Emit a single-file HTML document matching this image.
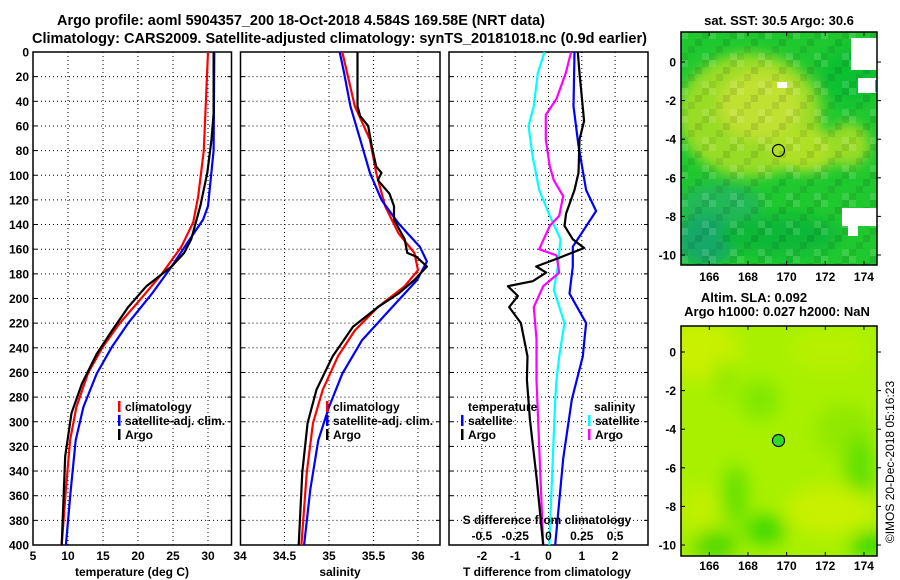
<!DOCTYPE html>
<html><head><meta charset="utf-8">
<style>
html,body{margin:0;padding:0;background:#fff;}
svg{display:block;font-family:"Liberation Sans",sans-serif;font-weight:bold;}
text{fill:#000;}
</style></head>
<body>
<svg id="chart" width="900" height="580" viewBox="0 0 900 580">
<text x="57" y="25" font-size="14.5" textLength="488" lengthAdjust="spacingAndGlyphs">Argo profile: aoml 5904357_200 18-Oct-2018 4.584S 169.58E (NRT data)</text>
<text x="32" y="43" font-size="14.5" textLength="615" lengthAdjust="spacingAndGlyphs">Climatology: CARS2009. Satellite-adjusted climatology: synTS_20181018.nc (0.9d earlier)</text>
<g id="p1"></g>
<g id="p2"></g>
<g id="p3"></g>

<defs>
<filter id="bl" x="-20%" y="-20%" width="140%" height="140%"><feGaussianBlur stdDeviation="6"/></filter>
<filter id="bl2" x="-20%" y="-20%" width="140%" height="140%"><feGaussianBlur stdDeviation="9"/></filter>
<clipPath id="c1"><rect x="681" y="32" width="196" height="233"/></clipPath>
<clipPath id="c2"><rect x="681" y="326" width="196" height="230"/></clipPath>
<pattern id="tex" x="681" y="32" width="28" height="28" patternUnits="userSpaceOnUse">
<rect x="0" y="0" width="7" height="7" fill="#fff" opacity="0.12"/>
<rect x="14" y="7" width="7" height="7" fill="#000" opacity="0.10"/>
<rect x="7" y="14" width="7" height="7" fill="#000" opacity="0.08"/>
<rect x="21" y="21" width="7" height="7" fill="#fff" opacity="0.12"/>
<rect x="0" y="21" width="7" height="7" fill="#000" opacity="0.06"/>
<rect x="21" y="0" width="7" height="7" fill="#000" opacity="0.08"/>
</pattern>
</defs>

<g>
<text x="779" y="25" font-size="13" text-anchor="middle">sat. SST: 30.5 Argo: 30.6</text>
<g clip-path="url(#c1)">
<rect x="681" y="32" width="196" height="233" fill="#20c830"/>
<g filter="url(#bl)">
<ellipse cx="750" cy="115" rx="72" ry="62" fill="#98dc28"/>
<ellipse cx="760" cy="105" rx="42" ry="35" fill="#c0e030"/>
<ellipse cx="805" cy="150" rx="35" ry="22" fill="#b0e028"/>
<ellipse cx="848" cy="145" rx="22" ry="22" fill="#98dc28"/>
<ellipse cx="720" cy="205" rx="40" ry="22" fill="#20b858"/>
<ellipse cx="705" cy="240" rx="30" ry="25" fill="#18a868"/>
<ellipse cx="850" cy="75" rx="30" ry="30" fill="#10c030"/>
<ellipse cx="780" cy="235" rx="60" ry="20" fill="#10b838"/>
</g>
<rect x="681" y="32" width="196" height="233" fill="url(#tex)"/>
<rect x="851" y="38" width="26" height="32" fill="#fff"/>
<rect x="858" y="78" width="19" height="15" fill="#fff"/>
<rect x="777" y="82" width="10" height="6" fill="#fff"/>
<rect x="842" y="208" width="35" height="18" fill="#fff"/>
<rect x="848" y="226" width="10" height="10" fill="#fff"/>
<rect x="875" y="80" width="2" height="12" fill="#20c0c0"/>
</g>
<rect x="681" y="32" width="196" height="233" fill="none" stroke="#000" stroke-width="1.5"/>
<circle cx="778.5" cy="150.5" r="6" fill="none" stroke="#000" stroke-width="1.2"/>
</g>

<g>
<text x="754" y="302" font-size="13" text-anchor="middle">Altim. SLA: 0.092</text>
<text x="777" y="316" font-size="13" text-anchor="middle">Argo h1000: 0.027 h2000: NaN</text>
<g clip-path="url(#c2)">
<rect x="681" y="326" width="196" height="230" fill="#a8f000"/>
<g filter="url(#bl2)">
<ellipse cx="700" cy="350" rx="40" ry="30" fill="#c8f000"/>
<ellipse cx="830" cy="350" rx="40" ry="20" fill="#b8f000"/>
<ellipse cx="760" cy="400" rx="20" ry="20" fill="#80e800"/>
<ellipse cx="845" cy="430" rx="30" ry="25" fill="#90e800"/>
<ellipse cx="860" cy="470" rx="15" ry="35" fill="#60e000"/>
<ellipse cx="830" cy="510" rx="45" ry="25" fill="#c8f000"/>
<ellipse cx="700" cy="510" rx="20" ry="25" fill="#c0f000"/>
<ellipse cx="735" cy="495" rx="12" ry="30" fill="#60e000"/>
<ellipse cx="715" cy="545" rx="22" ry="15" fill="#50d800"/>
<ellipse cx="765" cy="530" rx="20" ry="15" fill="#40d800"/>
<ellipse cx="870" cy="545" rx="20" ry="12" fill="#30d800"/>
<ellipse cx="725" cy="380" rx="10" ry="20" fill="#90e800"/>
</g>
</g>
<rect x="681" y="326" width="196" height="230" fill="none" stroke="#000" stroke-width="1.5"/>
<circle cx="778.5" cy="440.5" r="6" fill="#30d830" stroke="#000" stroke-width="1.2"/>
</g>
<g id="maxes"></g>
<text transform="translate(894,462) rotate(-90)" font-size="12" font-weight="normal" text-anchor="middle">©IMOS 20-Dec-2018 05:16:23</text>
</svg>
<script>
// ---- data ----
const depthsClimT = [0,80,117,138,158,180,201,220,239,260,288,315,355,400];
const tempClim    = [30.0,29.4,28.6,27.9,26.2,23.4,20.3,17.4,15.0,12.9,11.2,10.3,9.7,9.1];
const depthsSatT  = [0,80,125,136,152,174,196,220,239,261,288,315,355,400];
const tempSat     = [30.9,30.8,30.0,29.3,27.4,24.8,22.0,18.6,16.3,14.1,12.2,11.1,10.4,9.7];
const depthsArgoT = [0,50,71,98,125,152,163,174,190,207,226,245,269,293,328,400];
const tempArgo    = [30.8,30.8,30.5,29.9,28.9,27.6,26.6,24.8,21.2,18.6,16.3,14.1,12.0,10.5,9.6,9.1];

const depthsClimS = [0,44,71,98,125,147,163,177,190,207,226,247,274,301,341,400];
const salClim     = [35.15,35.29,35.46,35.53,35.63,35.78,35.96,36.0,35.85,35.55,35.29,35.1,34.93,34.82,34.75,34.69];
const depthsSatS  = [0,17,44,71,98,120,139,158,170,185,207,234,261,288,315,355,400];
const salSat      = [35.12,35.17,35.24,35.35,35.46,35.59,35.78,36.02,36.1,35.99,35.71,35.37,35.15,35.0,34.88,34.79,34.72];
const depthsArgoS = [0,44,52,60,76,93,98,104,115,125,136,152,163,166,174,185,196,207,223,247,274,301,341,400];
const salArgo     = [35.32,35.32,35.35,35.44,35.48,35.53,35.59,35.55,35.68,35.73,35.73,35.85,35.88,35.98,36.1,35.96,35.78,35.55,35.27,35.04,34.86,34.76,34.7,34.66];

const depthsDSat  = [0,17,44,60,84,112,133,152,174,193,220,247,266,282,400];
const dSalSat     = [-0.03,-0.08,-0.11,-0.15,-0.12,-0.07,0.01,0.09,0.07,0.04,0.12,0.08,0.06,0.05,0.006];
const depthsDArgo = [0,17,38,51,71,93,104,117,133,141,160,165,179,190,207,233,266,400];
const dSalArgo    = [0.17,0.13,0.06,-0.02,-0.02,0.01,0.04,0.11,0.08,0.01,-0.07,0.06,0.08,-0.04,-0.11,-0.09,-0.09,-0.04];
const depthsTSat  = [0,44,76,112,129,158,174,196,220,247,282,330,400];
const dTempSat    = [0.78,0.75,0.9,1.13,1.43,0.73,0.73,0.63,1.13,1.03,0.7,0.44,0.2];
const depthsTArgo = [0,17,56,71,98,112,131,141,152,159,168,174,179,186,190,198,207,220,247,266,298,347,400];
const dTempArgo   = [0.88,0.93,1.07,0.93,0.9,0.78,0.53,0.48,0.73,1.07,0.22,-0.37,-0.07,-0.47,-1.22,-0.92,-1.18,-0.83,-0.63,-0.65,-0.56,-0.35,-0.16];

const depthTicks = [0,20,40,60,80,100,120,140,160,180,200,220,240,260,280,300,320,340,360,380,400];
const tempTicks = [5,10,15,20,25,30];
const salTicks = [34,34.5,35,35.5,36];
const tDiffTicks = [-2,-1,0,1,2];
const sDiffTicks = [-0.5,-0.25,0,0.25,0.5];
const sDiffLabels = ['-0.5','-0.25','0','0.25','0.5'];
const lonTicks = [166,168,170,172,174];
const latTicks = [0,-2,-4,-6,-8,-10];

// ---- scales ----
const Y0=52, Y1=545;
const yD = d => Y0 + d*(Y1-Y0)/400;
const xT = t => 33 + (t-5)*7;
const xS = s => 240 + (s-34)*89;
const xDT = t => 548.5 + t*33.3;
const xDS = s => 548.5 + s*133.2;
const NS='http://www.w3.org/2000/svg';
function mk(tag, attrs, parent){const e=document.createElementNS(NS,tag);for(const k in attrs)e.setAttribute(k,attrs[k]);parent.appendChild(e);return e;}

function panel(g, x0, x1, vgridXs, name){
  for(const d of depthTicks){
    if(d>0&&d<400){
      const l=mk('line',{x1:x0,x2:x1,y1:yD(d),y2:yD(d),stroke:'#000','stroke-width':1,'stroke-dasharray':'1,3'},g);
      
      
    }
    const t1=mk('line',{x1:x0,x2:x0+4,y1:yD(d),y2:yD(d),stroke:'#000'},g);
    
    
    const t2=mk('line',{x1:x1-4,x2:x1,y1:yD(d),y2:yD(d),stroke:'#000'},g);
    
    
  }
  for(const x of vgridXs){
    const l=mk('line',{x1:x,x2:x,y1:Y0,y2:Y1,stroke:'#000','stroke-width':1,'stroke-dasharray':'1,3'},g);
    
    
  }
  const r=mk('rect',{x:x0,y:Y0,width:x1-x0,height:Y1-Y0,fill:'none',stroke:'#000','stroke-width':1.5},g);
  
  
}
function line(g, xs, ds, xf, color, name){
  const pts = xs.map((v,i)=>xf(v).toFixed(1)+','+yD(ds[i]).toFixed(1)).join(' ');
  const p=mk('polyline',{points:pts,fill:'none',stroke:color,'stroke-width':2.2,'stroke-linejoin':'round'},g);
  
  
}
function txt(g,x,y,s,anchor,size,name){
  const t=mk('text',{x:x,y:y,'font-size':size||12,'text-anchor':anchor||'middle'},g);
  t.textContent=s;
  
  
  return t;
}
function legend(g,x,y,items,name){
  items.forEach((it,i)=>{
    const m=mk('rect',{x:x,y:y+i*14-10,width:2.5,height:11,fill:it[1]},g);
    
    
    txt(g,x+7,y+i*14,it[0],'start',12,name+'-entry');
  });
}

// Panel 1
const p1=document.getElementById('p1');
panel(p1,33,231.5,tempTicks.filter(t=>t>5).map(xT),'temp');
line(p1,tempClim,depthsClimT,xT,'#ff0000','temp-climatology-line');
line(p1,tempSat,depthsSatT,xT,'#0000ff','temp-satellite-line');
line(p1,tempArgo,depthsArgoT,xT,'#000000','temp-argo-line');
depthTicks.forEach(d=>txt(p1,29,yD(d)+4.5,String(d),'end',12,'depth-tick-label'));
tempTicks.forEach(t=>txt(p1,xT(t),560,String(t),'middle',12,'temp-tick-label'));
txt(p1,132,576,'temperature (deg C)','middle',12,'temp-axis-title');
legend(p1,118,411,[['climatology','#f00'],['satellite-adj. clim.','#00f'],['Argo','#000']],'temp-legend');

// Panel 2
const p2=document.getElementById('p2');
panel(p2,240.5,440,salTicks.filter(s=>s>34).map(xS),'sal');
line(p2,salClim,depthsClimS,xS,'#ff0000','sal-climatology-line');
line(p2,salSat,depthsSatS,xS,'#0000ff','sal-satellite-line');
line(p2,salArgo,depthsArgoS,xS,'#000000','sal-argo-line');
salTicks.forEach(s=>txt(p2,xS(s),560,String(s),'middle',12,'sal-tick-label'));
txt(p2,340,576,'salinity','middle',12,'sal-axis-title');
legend(p2,326,411,[['climatology','#f00'],['satellite-adj. clim.','#00f'],['Argo','#000']],'sal-legend');

// Panel 3
const p3=document.getElementById('p3');
panel(p3,449,648,tDiffTicks.map(xDT),'diff');
line(p3,dSalSat,depthsDSat,xDS,'#00ffff','dsal-satellite-line');
line(p3,dSalArgo,depthsDArgo,xDS,'#ff00ff','dsal-argo-line');
line(p3,dTempSat,depthsTSat,xDT,'#0000ff','dtemp-satellite-line');
line(p3,dTempArgo,depthsTArgo,xDT,'#000000','dtemp-argo-line');
tDiffTicks.forEach(t=>txt(p3,xDT(t),560,String(t),'middle',12,'tdiff-tick-label'));
sDiffTicks.forEach((s,i)=>txt(p3,xDS(s),540,sDiffLabels[i],'middle',12,'sdiff-tick-label'));
txt(p3,547,524,'S difference from climatology','middle',12,'sdiff-axis-title');
txt(p3,547,576,'T difference from climatology','middle',12,'tdiff-axis-title');
txt(p3,468,411,'temperature','start',12,'tdiff-legend-title');
legend(p3,461,425,[['satellite','#00f'],['Argo','#000']],'tdiff-legend');
txt(p3,594,411,'salinity','start',12,'sdiff-legend-title');
legend(p3,588,425,[['satellite','#0ff'],['Argo','#f0f']],'sdiff-legend');

// Map axes
const ma=document.getElementById('maxes');
const lonX = lon => 709.3 + (lon-166)*19.33;
const maps=[{top:32,bot:265,lat0:62,lab:281,name:'sst-map'},{top:326,bot:556,lat0:352,lab:570,name:'sla-map'}];
maps.forEach(m=>{
  lonTicks.forEach(lon=>{
    const x=lonX(lon);
    const a=mk('line',{x1:x,x2:x,y1:m.bot,y2:m.bot-4,stroke:'#000'},ma);
    
    
    const b=mk('line',{x1:x,x2:x,y1:m.top,y2:m.top+4,stroke:'#000'},ma);
    
    
    txt(ma,x,m.lab,String(lon),'middle',12,m.name+'-lon-label');
  });
  latTicks.forEach(lat=>{
    const y=m.lat0 - lat*19.3;
    const a=mk('line',{x1:681,x2:685,y1:y,y2:y,stroke:'#000'},ma);
    
    
    const b=mk('line',{x1:877,x2:881,y1:y,y2:y,stroke:'#000'},ma);
    
    
    txt(ma,676,y+4.5,String(lat),'end',12,m.name+'-lat-label');
  });
});
</script>
</body></html>
